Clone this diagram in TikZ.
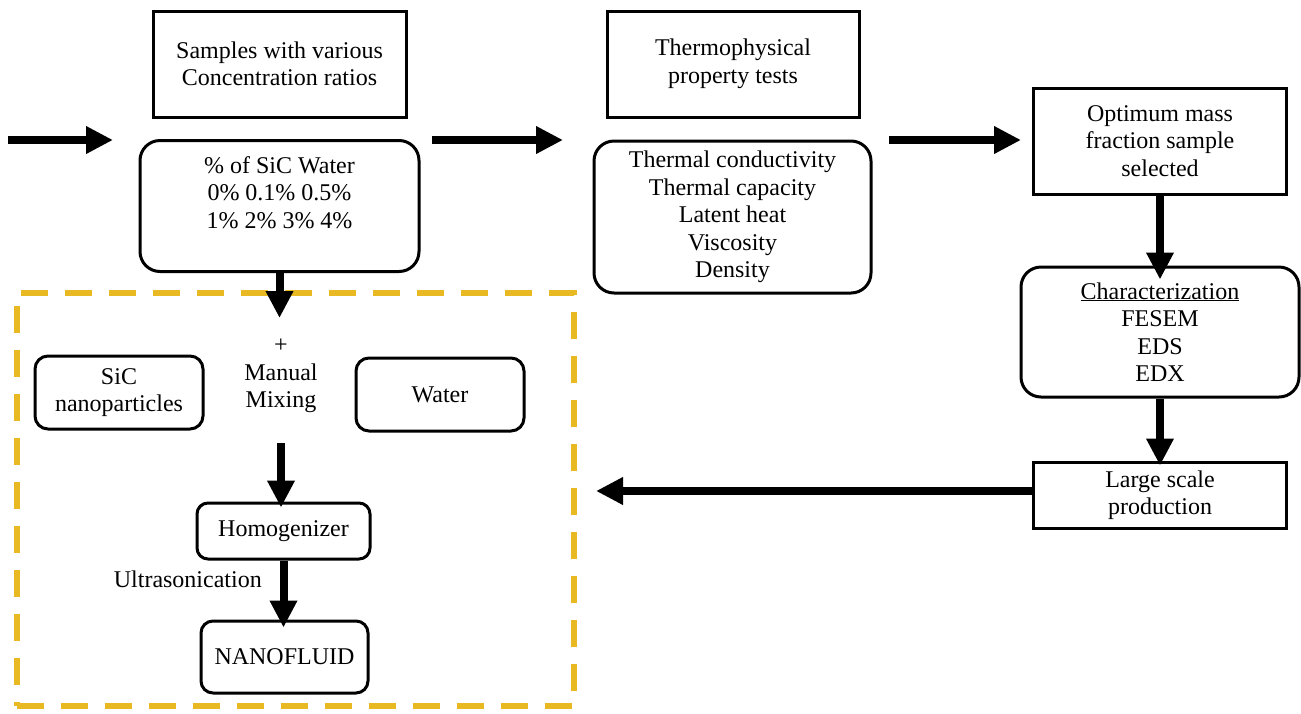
\documentclass[tikz,border=0pt]{standalone}
\usepackage{fontspec}
\setmainfont{Liberation Serif}
\usetikzlibrary{arrows.meta}
\definecolor{gold}{RGB}{232,185,35}
\tikzset{
  x=1pt, y=-1pt,
  every node/.style={font=\fontsize{24}{27.5}\selectfont, align=center, inner sep=0pt},
  sqbox/.style={draw, line width=3pt},
  rbox/.style={draw, line width=3pt, rounded corners=#1},
  rbox/.default=18pt,
  bigarrow/.style={line width=8pt, -{Triangle[length=27pt, width=26pt]}},
  goldframe/.style={draw=gold, line width=6pt, dash pattern=on 27pt off 17pt},
}
\begin{document}
\begin{tikzpicture}
\useasboundingbox (0,0) rectangle (1301,713);

% top row boxes
\node[sqbox, minimum width=253pt, minimum height=106pt] (samples) at (279.5,64) {Samples with various\\Concentration ratios};
\node[sqbox, minimum width=252pt, minimum height=106pt] (thermo) at (733,64) {Thermophysical\\property tests};
\node[sqbox, minimum width=253pt, minimum height=106pt] (optimum) at (1160,141) {Optimum mass\\fraction sample\\selected};

% rounded boxes
\node[rbox=20pt, minimum width=279pt, minimum height=131pt] (conc) at (279.5,206) {};
\node[anchor=north] (conctext) at ([yshift=-17pt]conc.north) {\% of SiC Water\\0\% 0.1\% 0.5\%\\1\% 2\% 3\% 4\%};
\node[rbox=20pt, minimum width=277pt, minimum height=152pt] (props) at (732.5,217) {Thermal conductivity\\Thermal capacity\\Latent heat\\Viscosity\\Density};
\node[rbox=20pt, minimum width=278pt, minimum height=130pt] (charac) at (1160,332) {\underline{Characterization}\\FESEM\\EDS\\EDX};
\node[sqbox, minimum width=253pt, minimum height=66pt] (large) at (1160,495) {Large scale\\production};

% dashed frame
\node[goldframe, minimum width=557pt, minimum height=413pt] (frame) at (295.5,499.5) {};

% inside frame
\node[rbox=13pt, minimum width=168pt, minimum height=73pt] (sic) at (119,392.5) {SiC\\nanoparticles};
\node[rbox=13pt, minimum width=168pt, minimum height=73pt] (water) at (440,394.5) {Water};
\node (mix) at (281,376) {+\\Manual\\Mixing};
\node[rbox=11pt, minimum width=173pt, minimum height=56pt] (homog) at (283.5,531) {Homogenizer};
\node[rbox=12pt, minimum width=167pt, minimum height=72pt] (nano) at (284.5,657) {NANOFLUID};
\node[anchor=east] (ultra) at (262,579) {Ultrasonication};

% coordinates for free arrow ends
\coordinate (inS) at (8,140);
\coordinate (inE) at (113,140);
\coordinate (a1S) at (432,140);
\coordinate (a1E) at (563,140);
\coordinate (a2S) at (889,140);
\coordinate (a2E) at (1021,140);
\coordinate (frameIn) at (279.5,318);
\coordinate (mixOut) at (281,443);
\coordinate (backE) at (596,491);

% arrows
\draw[bigarrow] (inS) -- (inE);
\draw[bigarrow] (a1S) -- (a1E);
\draw[bigarrow] (a2S) -- (a2E);
\draw[bigarrow] (conc.south) -- (frameIn);
\draw[bigarrow] (mixOut) -- ([yshift=-6pt]homog.north -| mixOut);
\draw[bigarrow] (homog.south) -- ([yshift=-8pt]nano.north -| homog.south);
\draw[bigarrow] (optimum.south) -- ([yshift=-14pt]charac.north);
\draw[bigarrow] (charac.south) -- ([yshift=-5pt]large.north);
\draw[bigarrow] (large.west |- backE) -- (backE);
\end{tikzpicture}
\end{document}
